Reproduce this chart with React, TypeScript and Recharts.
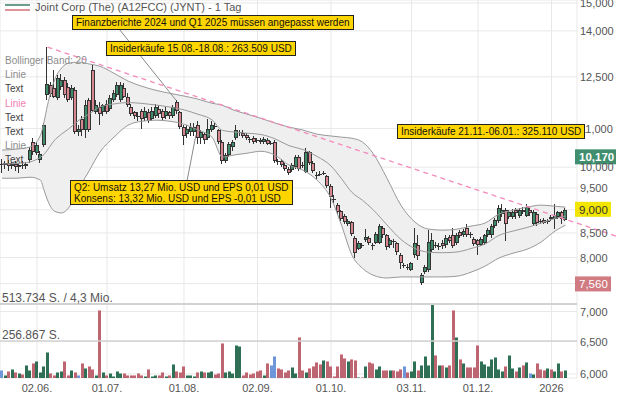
import React from 'react';
import {
  ComposedChart,
  Bar,
  Area,
  Line,
  XAxis,
  YAxis,
  CartesianGrid,
  ReferenceLine,
} from 'recharts';

// x axis: trading day index, ticks at month starts
const dateTickIndex = [10, 30, 52, 73, 94, 117, 136, 157];
const dateTickLabels = ['02.06.', '01.07.', '01.08.', '02.09.', '01.10.', '03.11.', '01.12.', '2026'];
const priceTicks = [6000, 6500, 7000, 7500, 8000, 8500, 9000, 9500, 10000, 11000, 12500, 14000, 15000];
// tick labels hidden behind the price badges
const coveredTickLabels = [7500, 9000];

const openPrices = [
  10080, 10050, 10100, 10020, 10080, 10000, 10050, 10020, 10170, 10650,
  10350, 10170, 10560, 11950, 12240, 12150, 11850, 12200, 12400, 12200,
  11850, 12100, 10920, 11250, 10950, 11800, 12700, 11450, 11600, 11450,
  11700, 11550, 11800, 11950, 11800, 12150, 11900, 11600, 11450, 11350,
  11500, 11300, 11450, 11250, 11350, 11550, 11500, 11350, 11450, 11350,
  11750, 11450, 11050, 10850, 10900, 10900, 11100, 10750, 10850, 10750,
  10950, 11080, 10950, 10650, 10150, 10300, 10500, 10750, 10880, 10880,
  10820, 10720, 10750, 10700, 10700, 10650, 10700, 10620, 10650, 10150,
  10150, 10050, 9950, 9930, 10000, 10250, 10050, 9880, 10380, 10100,
  9820, 9840, 9850, 9780, 9550, 9250, 9100, 8980, 8870, 8690,
  8730, 8400, 8180, 8250, 8350, 8400, 8260, 8300, 8300, 8600,
  8450, 8250, 8340, 8290, 8050, 7860, 7820, 7760, 8050, 8250,
  7520, 7720, 7760, 8150, 8260, 8230, 8300, 8250, 8420, 8450,
  8300, 8520, 8460, 8600, 8480, 8380, 8350, 8260, 8300, 8450,
  8450, 8640, 8750, 8900, 9000, 8850, 8850, 9000, 8870, 9000,
  8870, 9000, 8700, 8900, 8760, 8780, 8750, 8850, 8800, 8850,
  8950, 8780,
];
const highPrices = [
  10200, 10150, 10180, 10120, 10150, 10100, 10150, 10120, 10500, 10750,
  10650, 10400, 11150, 13450, 12350, 12700, 12550, 12600, 12500, 12300,
  12250, 12200, 11100, 11350, 11800, 11850, 12860, 11800, 11750, 11700,
  11800, 11950, 12100, 12350, 12350, 12300, 12000, 11700, 11500, 11450,
  11550, 11600, 11550, 11600, 11700, 11650, 11550, 11600, 11500, 11650,
  11800, 11500, 11100, 11100, 11150, 11150, 11200, 10950, 10900, 11250,
  11200, 11150, 11000, 10700, 10350, 10650, 10700, 11100, 10950, 10950,
  10880, 10780, 10800, 10760, 10750, 10780, 10750, 10680, 10700, 10200,
  10200, 10100, 10000, 10100, 10300, 10300, 10120, 10480, 10420, 10150,
  9870, 9900, 9900, 9820, 9600, 9330, 9150, 9000, 8900, 8800,
  8760, 8430, 8330, 8300, 8580, 8430, 8300, 8520, 8700, 8650,
  8480, 8400, 8380, 8320, 8080, 7900, 7880, 7920, 8600, 8450,
  7700, 7850, 8560, 8500, 8320, 8300, 8350, 8450, 8460, 8600,
  8500, 8560, 8580, 8680, 8520, 8420, 8380, 8420, 8480, 8600,
  8700, 8820, 9100, 9120, 9050, 9000, 9020, 9050, 9050, 9060,
  9120, 9080, 9000, 8950, 8800, 8820, 8800, 8880, 9120, 8980,
  8980, 9030,
];
const lowPrices = [
  9850, 9950, 9900, 9950, 9900, 9850, 9950, 9960, 10100, 10300,
  10300, 10100, 10500, 11800, 11900, 11850, 11800, 12100, 11850, 11750,
  11800, 10850, 10800, 10800, 10750, 10900, 11450, 11400, 11100, 11350,
  11400, 11500, 11750, 11900, 11750, 11850, 11600, 11350, 11250, 11200,
  11000, 11200, 11150, 11200, 11300, 11300, 11200, 11250, 11250, 11300,
  11400, 11000, 10550, 10750, 10800, 10800, 10600, 10600, 10600, 10700,
  10900, 11000, 10600, 10080, 10100, 10250, 10400, 10700, 10800, 10750,
  10700, 10620, 10600, 10620, 10580, 10600, 10550, 10550, 10100, 10050,
  10000, 9900, 9800, 9880, 9950, 9900, 9980, 9850, 10050, 9850,
  9700, 9780, 9800, 9500, 9050, 9150, 8900, 8750, 8700, 8650,
  8430, 8000, 8150, 8200, 8320, 8250, 8150, 8270, 8280, 8400,
  8150, 8200, 8200, 8050, 7780, 7800, 7760, 7730, 8000, 7950,
  7480, 7680, 7720, 8100, 8200, 8150, 8180, 8200, 8300, 8200,
  8250, 8400, 8420, 8420, 8400, 8230, 8050, 8230, 8260, 8420,
  8400, 8600, 8720, 8850, 8330, 8800, 8800, 8800, 8820, 8900,
  8850, 8860, 8650, 8650, 8680, 8680, 8700, 8760, 8580, 8800,
  8700, 8750,
];
const closePrices = [
  10050, 10100, 10020, 10080, 10000, 10050, 10020, 10080, 10430, 10380,
  10560, 10330, 11090, 12280, 11980, 11900, 12450, 12400, 11950, 11800,
  12150, 10900, 11000, 10950, 11650, 10950, 11500, 11650, 11400, 11650,
  11450, 11850, 12000, 12250, 12250, 11900, 11650, 11400, 11350, 11320,
  11250, 11500, 11200, 11500, 11600, 11400, 11300, 11500, 11350, 11600,
  11500, 11050, 10800, 11000, 11050, 11050, 10750, 10900, 10700, 11000,
  11100, 11060, 10650, 10150, 10300, 10600, 10650, 10950, 10900, 10800,
  10750, 10700, 10650, 10690, 10640, 10720, 10600, 10600, 10150, 10130,
  10050, 9950, 9850, 10050, 10250, 9950, 10030, 10380, 10100, 9900,
  9800, 9830, 9860, 9550, 9300, 9230, 8950, 8800, 8730, 8760,
  8480, 8080, 8300, 8240, 8420, 8300, 8250, 8480, 8650, 8450,
  8220, 8360, 8330, 8100, 7890, 7850, 7810, 7890, 8290, 8030,
  7660, 7820, 8310, 8350, 8250, 8240, 8230, 8400, 8330, 8230,
  8450, 8430, 8540, 8450, 8470, 8270, 8250, 8380, 8450, 8560,
  8650, 8780, 9030, 9000, 8700, 8950, 8960, 8920, 9000, 8950,
  9060, 8920, 8950, 8720, 8750, 8720, 8760, 8800, 8880, 8950,
  8800, 9000,
];
const volumes = [
  58000, 23000, 51000, 65000, 42000, 35000, 30000, 87000, 58000, 104000,
  115000, 42000, 80000, 180000, 35000, 18000, 42000, 46000, 120000, 23000,
  58000, 42000, 23000, 104000, 69000, 80000, 65000, 23000, 474000, 42000,
  23000, 35000, 11000, 51000, 35000, 35000, 23000, 18000, 23000, 35000,
  23000, 16000, 65000, 11000, 23000, 18000, 42000, 11000, 23000, 97000,
  46000, 42000, 80000, 23000, 23000, 11000, 42000, 46000, 42000, 39000,
  51000, 30000, 35000, 243000, 42000, 46000, 35000, 231000, 219000, 23000,
  42000, 28000, 35000, 51000, 58000, 23000, 104000, 92000, 150000, 69000,
  65000, 42000, 58000, 74000, 35000, 282000, 58000, 42000, 69000, 80000,
  108000, 97000, 127000, 115000, 80000, 16000, 80000, 167000, 139000, 120000,
  132000, 122000, 4000, 4000, 80000, 108000, 104000, 65000, 85000, 58000,
  58000, 58000, 58000, 46000, 65000, 85000, 42000, 51000, 115000, 58000,
  87000, 155000, 87000, 520000, 157000, 87000, 92000, 74000, 87000, 469000,
  285000, 134000, 104000, 74000, 74000, 74000, 226000, 115000, 99000, 80000,
  134000, 146000, 65000, 46000, 80000, 162000, 69000, 46000, 74000, 92000,
  108000, 35000, 30000, 104000, 65000, 58000, 69000, 65000, 46000, 104000,
  46000, 58000,
];
const neutralVolumeDays = [0, 22, 77, 78, 115, 151];

const bandIndex = [0, 4, 8, 11, 12, 13, 15, 17, 19, 22, 25, 28, 32, 36, 40, 44, 48, 52, 56, 60, 63, 66, 70, 74, 78, 82, 86, 90, 94, 97, 100, 103, 106, 110, 114, 118, 122, 126, 130, 134, 138, 142, 146, 150, 154, 158, 161];
const bandUpper = [10430, 10455, 10510, 10820, 11180, 11650, 12400, 12770, 12930, 12960, 12900, 12830, 12610, 12370, 12210, 12090, 12000, 11920, 11830, 11710, 11650, 11520, 11400, 11280, 11150, 11040, 10960, 10850, 10800, 10770, 10740, 10640, 10350, 9730, 9100, 8730, 8580, 8560, 8580, 8645, 8710, 8905, 8990, 9060, 9105, 9080, 9060];
const bandMiddle = [10080, 10090, 10130, 10250, 10315, 10435, 10685, 10850, 10985, 11230, 11410, 11605, 11690, 11730, 11705, 11660, 11600, 11520, 11395, 11240, 10950, 10910, 10875, 10840, 10725, 10545, 10445, 10270, 10030, 9720, 9395, 9215, 9005, 8670, 8365, 8180, 8105, 8095, 8110, 8180, 8270, 8450, 8540, 8615, 8710, 8810, 8865];
const bandLower = [9730, 9730, 9755, 9685, 9450, 9220, 8970, 8930, 9040, 9495, 9925, 10380, 10770, 11090, 11200, 11230, 11200, 11120, 10960, 10770, 10250, 10300, 10350, 10400, 10300, 10050, 9925, 9685, 9260, 8665, 8045, 7790, 7660, 7605, 7625, 7625, 7625, 7625, 7640, 7715, 7830, 7990, 8085, 8165, 8310, 8540, 8665];

const legendItems = [
  { text: 'Bollinger Band: 20', color: '#8c8c8c' },
  { text: 'Linie', color: '#8c8c8c' },
  { text: 'Text', color: '#444' },
  { text: 'Linie', color: '#f07fb0' },
  { text: 'Text', color: '#444' },
  { text: 'Text', color: '#444' },
  { text: 'Linie', color: '#8c8c8c' },
  { text: 'Text', color: '#444' },
];

const FONT = '"Liberation Sans", Arial, sans-serif';
const W = 619;
const H = 399;

const rows = openPrices.map((open, i) => {
  const k = bandIndex.indexOf(i);
  return {
    i,
    open,
    high: highPrices[i],
    low: lowPrices[i],
    close: closePrices[i],
    range: [lowPrices[i], highPrices[i]],
    vol: volumes[i],
    band: k >= 0 ? [bandLower[k], bandUpper[k]] : null,
    bu: k >= 0 ? bandUpper[k] : null,
    bm: k >= 0 ? bandMiddle[k] : null,
    bl: k >= 0 ? bandLower[k] : null,
  };
});

const Candle = (props: any) => {
  const { x, y, width, height, payload } = props;
  if (x == null || y == null) return null;
  const { open, close, high, low } = payload;
  const span = Math.log(high / low) || 1;
  // log axis: place open/close between the high/low pixels the scale gave us
  const toY = (v: number) => y + (height * Math.log(high / v)) / span;
  const cx = Math.round(x + width / 2);
  const up = close >= open;
  const top = Math.round(toY(Math.max(open, close)));
  const bot = Math.max(Math.round(toY(Math.min(open, close))), top + 1);
  const wTop = Math.round(y);
  const wBot = Math.round(y + height);
  return (
    <g>
      <rect x={cx - 1} y={wTop} width={1} height={Math.max(1, wBot - wTop)} fill="#333" />
      <rect x={cx - 2} y={top} width={4} height={bot - top} fill="#333" />
      {bot - top > 2 && (
        <rect x={cx - 1} y={top + 1} width={2} height={bot - top - 2} fill={up ? '#3d8b69' : '#d7868f'} />
      )}
    </g>
  );
};

const VolumeBar = (props: any) => {
  const { x, y, width, height, payload } = props;
  if (x == null || !height || height <= 0) return null;
  const neutral = neutralVolumeDays.includes(payload.i);
  const up = payload.close >= payload.open;
  const fill = neutral ? '#6f96d8' : up ? '#2f6f55' : '#bd6570';
  const cap = neutral ? '#aec6ef' : up ? '#8cb8a4' : '#e3a7ad';
  const left = Math.round(x + width / 2 - 1.5);
  const top = Math.round(y);
  const bottom = Math.round(y + height);
  return (
    <g>
      <rect x={left} y={top} width={3} height={Math.max(1, bottom - top)} fill={fill} />
      <rect x={left} y={top} width={3} height={1} fill={cap} />
    </g>
  );
};

const PriceTick = (props: any) => {
  const { x, y, payload } = props;
  if (coveredTickLabels.includes(payload.value)) return null;
  return (
    <text x={x} y={y} dy={4} fill="#555" fontSize={11} fontFamily={FONT} textAnchor="start">
      {Number(payload.value).toLocaleString('en-US')}
    </text>
  );
};

const badge = (text: string, bg: string, fg: string, w: number, bold: boolean, dy: number) => (props: any) => {
  const vb = props.viewBox;
  if (!vb) return null;
  const bx = vb.x + vb.width - 2;
  const cy = vb.y + dy;
  return (
    <g>
      <rect x={bx} y={cy - 8} width={w} height={15} fill={bg} />
      <text x={bx + 4} y={cy + 4} fill={fg} fontSize={11.5} fontWeight={bold ? 700 : 400} fontFamily={FONT}>
        {text}
      </text>
    </g>
  );
};

const boxStyle: React.CSSProperties = {
  position: 'absolute',
  background: '#ffd500',
  border: '1px solid #222',
  color: '#111',
  fontSize: 10,
  lineHeight: '13px',
  padding: '0 3px',
  whiteSpace: 'nowrap',
};

export default function App() {
  return (
    <div
      style={{
        position: 'absolute',
        left: 0,
        top: 0,
        width: W,
        height: H,
        background: '#fff',
        fontFamily: FONT,
        overflow: 'hidden',
      }}
    >
      <ComposedChart width={W} height={H} data={rows} margin={{ top: 0, right: 0, bottom: 0, left: 0 }}>
        <CartesianGrid stroke="#e8e8e8" yAxisId="price" />
        <XAxis
          dataKey="i"
          type="number"
          domain={[-0.571, 164.286]}
          allowDataOverflow
          ticks={dateTickIndex}
          interval={0}
          tickFormatter={(v: number) => dateTickLabels[dateTickIndex.indexOf(v)] ?? ''}
          height={21}
          tickLine={false}
          axisLine={false}
          tickSize={0}
          tickMargin={6}
          tick={{ fontSize: 11, fill: '#555' }}
        />
        <XAxis xAxisId="vx" dataKey="i" type="number" domain={[-0.571, 164.286]} allowDataOverflow hide />
        <YAxis
          yAxisId="price"
          orientation="right"
          scale="log"
          type="number"
          domain={[5941, 15111]}
          allowDataOverflow
          ticks={priceTicks}
          interval={0}
          width={42}
          tickLine={false}
          axisLine={false}
          tickSize={0}
          tickMargin={3}
          tick={PriceTick}
        />
        <YAxis yAxisId="vol" type="number" domain={[0, 2624000]} allowDataOverflow hide />

        <Area
          yAxisId="price"
          dataKey="band"
          type="monotone"
          fill="#efefef"
          fillOpacity={1}
          stroke="none"
          connectNulls
          isAnimationActive={false}
        />
        <Line yAxisId="price" dataKey="bu" type="monotone" stroke="#999" strokeWidth={1} dot={false} connectNulls isAnimationActive={false} />
        <Line yAxisId="price" dataKey="bm" type="monotone" stroke="#999" strokeWidth={1} dot={false} connectNulls isAnimationActive={false} />
        <Line yAxisId="price" dataKey="bl" type="monotone" stroke="#999" strokeWidth={1} dot={false} connectNulls isAnimationActive={false} />

        <ReferenceLine
          yAxisId="vol"
          xAxisId="vx"
          y={513734}
          stroke="#d2d2d2"
          strokeWidth={2}
          label={{ value: '513.734 S. / 4,3 Mio.', position: 'insideBottomLeft', offset: 2, fill: '#555', fontSize: 12 }}
        />
        <ReferenceLine
          yAxisId="vol"
          xAxisId="vx"
          y={256867}
          stroke="#d2d2d2"
          strokeWidth={1.5}
          label={{ value: '256.867 S.', position: 'insideBottomLeft', offset: 2, fill: '#555', fontSize: 12 }}
        />

        <Bar yAxisId="vol" xAxisId="vx" dataKey="vol" barSize={3} shape={VolumeBar} isAnimationActive={false} />
        <Bar yAxisId="price" dataKey="range" barSize={3} shape={Candle} isAnimationActive={false} />

        <ReferenceLine
          yAxisId="price"
          segment={[{ x: 13, y: 13450 }, { x: 176.3, y: 8414 }]}
          stroke="#f58abb"
          strokeWidth={1.3}
          strokeDasharray="5 4"
          ifOverflow="visible"
        />
        <ReferenceLine
          yAxisId="price"
          segment={[{ x: 33.7, y: 14030 }, { x: 49.7, y: 11800 }]}
          stroke="#8a8a8a"
          ifOverflow="visible"
        />
        <ReferenceLine
          yAxisId="price"
          segment={[{ x: 52.9, y: 9684 }, { x: 55.4, y: 10822 }]}
          stroke="#8a8a8a"
          ifOverflow="visible"
        />

        <ReferenceLine yAxisId="price" y={10170} stroke="none" ifOverflow="visible" label={badge('10,170', '#3f8f6f', '#fff', 41, true, -3)} />
        <ReferenceLine yAxisId="price" y={9000} stroke="none" ifOverflow="visible" label={badge('9,000', '#f2e600', '#333', 36, false, 0)} />
        <ReferenceLine yAxisId="price" y={7560} stroke="none" ifOverflow="visible" label={badge('7,560', '#d07a82', '#fff', 36, false, 4)} />
      </ComposedChart>

      {/* header */}
      <svg style={{ position: 'absolute', left: 0, top: 0 }} width={34} height={14}>
        <rect x={5} y={4} width={25} height={2} fill="#6b9e8a" />
        <rect x={5} y={9} width={25} height={2} fill="#e0939b" />
      </svg>
      <div style={{ position: 'absolute', left: 35, top: 1, fontSize: 11, lineHeight: '13px', color: '#555', whiteSpace: 'nowrap' }}>
        Joint Corp (The) (A12FCC) (JYNT) - 1 Tag
      </div>

      {/* indicator legend */}
      {legendItems.map((item, k) => (
        <div
          key={k}
          style={{
            position: 'absolute',
            left: 5,
            top: 55 + k * 14.2,
            fontSize: 10,
            lineHeight: '12px',
            color: item.color,
            whiteSpace: 'nowrap',
          }}
        >
          {item.text}
        </div>
      ))}

      {/* annotations */}
      <div style={{ ...boxStyle, left: 72, top: 15 }}>Finanzberichte 2024 und Q1 2025 müssen angepasst werden</div>
      <div style={{ ...boxStyle, left: 106, top: 41 }}>Insiderkäufe 15.08.-18.08.: 263.509 USD</div>
      <div style={{ ...boxStyle, left: 70, top: 180, lineHeight: '11px', paddingTop: 1 }}>
        Q2: Umsatz 13,27 Mio. USD und EPS 0,01 USD
        <br />
        Konsens: 13,32 Mio. USD und EPS -0,01 USD
      </div>
      <div style={{ ...boxStyle, left: 397, top: 124 }}>Insiderkäufe 21.11.-06.01.: 325.110 USD</div>
    </div>
  );
}
